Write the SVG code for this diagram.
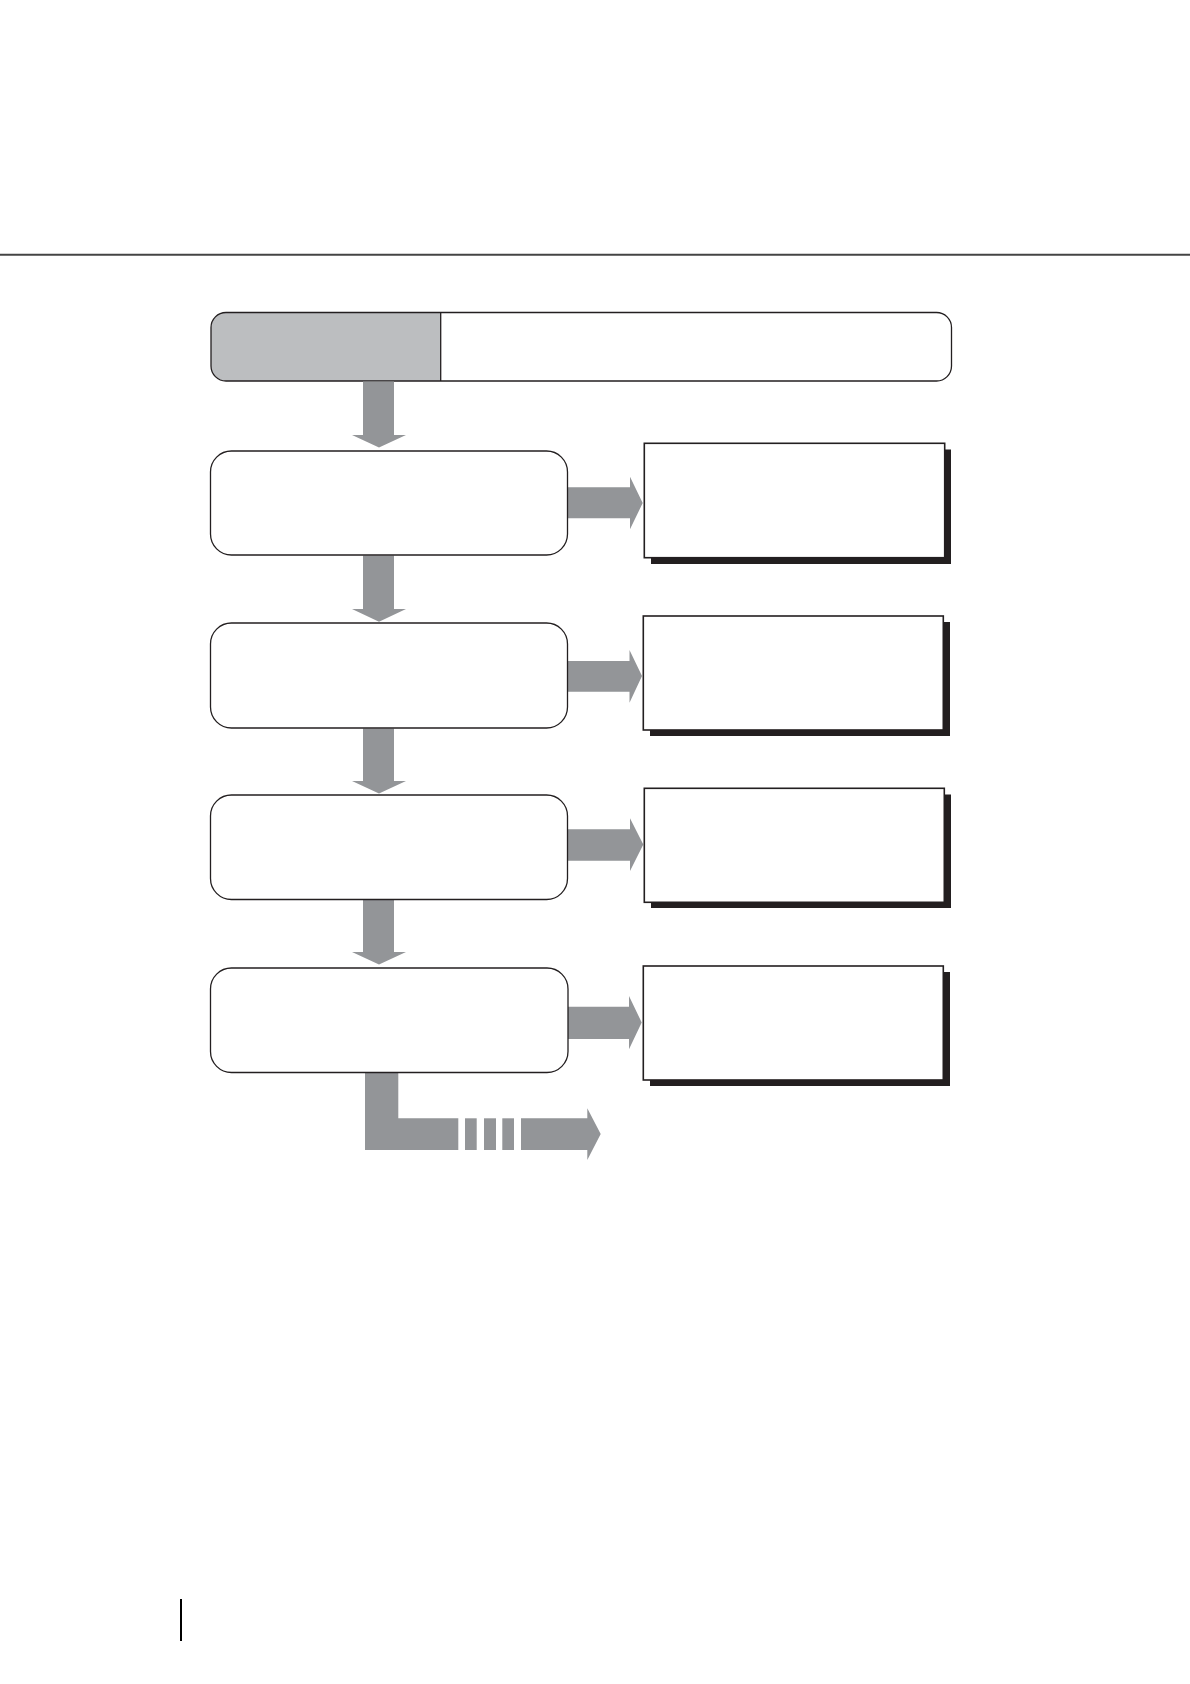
<svg xmlns="http://www.w3.org/2000/svg" width="1190" height="1684" viewBox="0 0 1190 1684">
<style>
.box{fill:#fff;stroke:#231f20;stroke-width:1.3}
.side{fill:#fff;stroke:#231f20;stroke-width:1.6}
.shadow{fill:#231f20}
.arrow{fill:#939598}
</style>
<rect width="1190" height="1684" fill="#fff"/>
<line x1="0" y1="254.7" x2="1190" y2="254.7" stroke="#444" stroke-width="2"/>
<line x1="181" y1="1599" x2="181" y2="1641" stroke="#000" stroke-width="2"/>
<g id="header">
<path d="M440.7,312.5 H226 A15,15 0 0 0 211,327.5 V366 A15,15 0 0 0 226,381 H440.7 Z" fill="#bcbec0"/>
<rect x="211" y="312.5" width="740.5" height="68.5" rx="15" ry="15" fill="none" stroke="#231f20" stroke-width="1.3"/>
<line x1="440.7" y1="312.5" x2="440.7" y2="381" stroke="#231f20" stroke-width="1.3"/>
</g>
<g id="connectors">
<polygon class="arrow" points="363,381.5 394,381.5 394,435 406,435 379,447.5 352,435 363,435"/>
<polygon class="arrow" points="363,555.5 394,555.5 394,609 406,609 379,621.7 352,609 363,609"/>
<polygon class="arrow" points="363,728.5 394,728.5 394,781 406,781 379,793.5 352,781 363,781"/>
<polygon class="arrow" points="363,900 394,900 394,952 406,952 379,964.5 352,952 363,952"/>
<polygon class="arrow" points="567,487.3 630,487.3 630,476.7 642.7,503 630,529.3 630,518.3 567,518.3"/>
<polygon class="arrow" points="567,661 629.5,661 629.5,650 642,676 629.5,702.7 629.5,691.7 567,691.7"/>
<polygon class="arrow" points="567,829.3 630,829.3 630,818.3 643.3,844.5 630,871 630,860.7 567,860.7"/>
<polygon class="arrow" points="567,1006.7 629,1006.7 629,996 641.7,1022.5 629,1049.3 629,1039 567,1039"/>
<polygon class="arrow" points="365,1072.5 398.3,1072.5 398.3,1118.3 458.3,1118.3 458.3,1150 365,1150"/>
<rect class="arrow" x="465" y="1118.3" width="11.7" height="31.7"/>
<rect class="arrow" x="484" y="1118.3" width="12" height="31.7"/>
<rect class="arrow" x="502.3" y="1118.3" width="11.7" height="31.7"/>
<polygon class="arrow" points="521,1118.3 587.3,1118.3 587.3,1108.3 600.7,1134 587.3,1160 587.3,1150 521,1150"/>
</g>
<g id="step1"><rect class="box" x="210.5" y="451" width="357" height="104" rx="21" ry="21"/></g>
<g id="step2"><rect class="box" x="210.5" y="623" width="357" height="105" rx="21" ry="21"/></g>
<g id="step3"><rect class="box" x="210.5" y="795" width="357" height="104.5" rx="21" ry="21"/></g>
<g id="step4"><rect class="box" x="210.5" y="968" width="357.5" height="104.5" rx="21" ry="21"/></g>
<g id="note1"><rect class="shadow" x="651" y="449.5" width="300" height="114.5"/><rect class="side" x="644.3" y="443.3" width="300.4" height="114.4"/></g>
<g id="note2"><rect class="shadow" x="650" y="622" width="300" height="114"/><rect class="side" x="643.3" y="616" width="300" height="114"/></g>
<g id="note3"><rect class="shadow" x="651" y="794.5" width="300" height="113.5"/><rect class="side" x="644.3" y="788.3" width="300" height="114"/></g>
<g id="note4"><rect class="shadow" x="650" y="972" width="300" height="114"/><rect class="side" x="643.3" y="966" width="300" height="114"/></g>
</svg>
